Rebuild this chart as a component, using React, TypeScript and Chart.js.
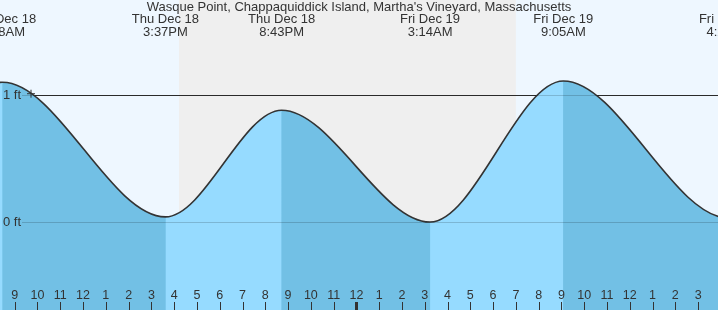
import React, { useEffect, useRef } from "react";
import Chart from "chart.js/auto";

// ---- data (times are hours after Thu Dec 18, 00:00) ----
const TITLE = "Wasque Point, Chappaquiddick Island, Martha's Vineyard, Massachusetts";
const tideTimes = [2.2, 8.467, 15.617, 20.717, 27.233, 33.083, 40.35, 46.6];
const tideHeights = [0.05, 1.1, 0.04, 0.88, 0.0, 1.11, 0.03, 0.9];
const eventTimes = [8.467, 15.617, 20.717, 27.233, 33.083, 40.35];
const eventDays = ["Thu Dec 18", "Thu Dec 18", "Thu Dec 18", "Fri Dec 19", "Fri Dec 19", "Fri Dec 19"];
const eventClock = ["8:28AM", "3:37PM", "8:43PM", "3:14AM", "9:05AM", "4:21PM"];
const nightStarts = [16.21];
const nightEnds = [31.0];
const hourTicks = [9, 10, 11, 12, 13, 14, 15, 16, 17, 18, 19, 20, 21, 22, 23, 24, 25, 26, 27, 28, 29, 30, 31, 32, 33, 34, 35, 36, 37, 38, 39];
const hourLabels = ["9", "10", "11", "12", "1", "2", "3", "4", "5", "6", "7", "8", "9", "10", "11", "12", "1", "2", "3", "4", "5", "6", "7", "8", "9", "10", "11", "12", "1", "2", "3"];
const midnightHours = [24];
const nowTimes = [9.715];
const nowHeights = [1.01];
const heightTicks = [0, 1];
const heightLabels = ["0 ft", "1 ft"];

const X_MIN = 8.354;
const X_MAX = 39.873;
const Y_MIN = -0.693;
const Y_MAX = 1.748;

const DAY_BG = "#eef7ff";
const NIGHT_BG = "#efefef";
const RISING = "#96dbff";
const FALLING = "#72c0e5";
const INK = "#333333";
const FONT = "'Liberation Sans', Arial, sans-serif";

function drawLevelLines(chart: any, color: string) {
  const { ctx, chartArea: a, scales } = chart;
  ctx.save();
  ctx.strokeStyle = color;
  ctx.lineWidth = 1;
  heightTicks.forEach((v) => {
    const y = Math.round(scales.y.getPixelForValue(v)) + 0.5;
    ctx.beginPath();
    ctx.moveTo(22, y);
    ctx.lineTo(a.right, y);
    ctx.stroke();
  });
  ctx.restore();
}

const decor = {
  id: "tideDecor",
  beforeDraw(chart: any) {
    const { ctx, chartArea: a, scales } = chart;
    const xs = scales.x;
    ctx.save();
    ctx.fillStyle = DAY_BG;
    ctx.fillRect(a.left, a.top, a.right - a.left, a.bottom - a.top);
    ctx.fillStyle = NIGHT_BG;
    nightStarts.forEach((s, i) => {
      const x0 = xs.getPixelForValue(s);
      const x1 = xs.getPixelForValue(nightEnds[i]);
      ctx.fillRect(x0, a.top, x1 - x0, a.bottom - a.top);
    });
    ctx.restore();
    drawLevelLines(chart, INK);
  },
  afterDatasetsDraw(chart: any) {
    const { ctx, chartArea: a, scales } = chart;
    const xs = scales.x;
    const ys = scales.y;
    drawLevelLines(chart, "rgba(0,0,0,0.17)");
    ctx.save();
    ctx.fillStyle = INK;
    ctx.textBaseline = "middle";
    // height labels
    ctx.font = `13px ${FONT}`;
    ctx.textAlign = "left";
    heightTicks.forEach((v, i) => {
      ctx.fillText(heightLabels[i], 3, ys.getPixelForValue(v) + 0.5);
    });
    // hour ticks
    ctx.font = `12.5px ${FONT}`;
    ctx.textAlign = "center";
    hourTicks.forEach((h, i) => {
      const x = xs.getPixelForValue(h);
      ctx.fillText(hourLabels[i], x, 296);
      if (midnightHours.includes(h)) {
        ctx.fillRect(Math.round(x) - 1, 302, 3, a.bottom - 302);
      } else {
        ctx.fillRect(Math.round(x), 302, 1, a.bottom - 302);
      }
    });
    // event labels
    ctx.font = `13px ${FONT}`;
    eventTimes.forEach((t, i) => {
      const x = xs.getPixelForValue(t);
      ctx.fillText(eventDays[i], x, 19.5);
      ctx.fillText(eventClock[i], x, 32);
    });
    // title
    ctx.fillText(TITLE, (a.left + a.right) / 2, 7);
    ctx.restore();
  },
};

export default function App() {
  const ref = useRef<HTMLCanvasElement>(null);
  useEffect(() => {
    if (!ref.current) return;
    const tidePoints = tideTimes.map((t, i) => ({ x: t, y: tideHeights[i] }));
    const chart = new Chart(ref.current, {
      type: "line",
      data: {
        datasets: [
          {
            // whole water body (falling colour) + curve stroke
            data: tidePoints,
            borderColor: INK,
            borderWidth: 1.6,
            pointRadius: 0,
            cubicInterpolationMode: "monotone",
            fill: "start",
            backgroundColor: FALLING,
            order: 3,
          },
          {
            // rising (flood) stretches painted over it
            data: tidePoints,
            borderColor: "rgba(0,0,0,0)",
            borderWidth: 0,
            pointRadius: 0,
            cubicInterpolationMode: "monotone",
            fill: "start",
            backgroundColor: RISING,
            segment: {
              backgroundColor: (c: any) => (c.p1.parsed.y > c.p0.parsed.y ? RISING : "rgba(0,0,0,0)"),
            },
            order: 2,
          },
          {
            type: "scatter",
            data: nowTimes.map((t, i) => ({ x: t, y: nowHeights[i] })),
            pointStyle: "cross",
            pointRadius: 4,
            borderColor: INK,
            borderWidth: 1,
            order: 1,
          } as any,
        ],
      },
      options: {
        animation: false,
        responsive: false,
        devicePixelRatio: 1,
        layout: { padding: 0, autoPadding: false },
        events: [],
        scales: {
          x: { type: "linear", min: X_MIN, max: X_MAX, display: false },
          y: { type: "linear", min: Y_MIN, max: Y_MAX, display: false },
        },
        plugins: {
          legend: { display: false },
          title: { display: false },
          tooltip: { enabled: false },
          filler: { drawTime: "beforeDatasetsDraw" },
        },
      },
      plugins: [decor],
    } as any);
    return () => chart.destroy();
  }, []);
  return (
    <div style={{ position: "absolute", left: 0, top: 0, width: 718, height: 310 }}>
      <canvas ref={ref} width={718} height={310} style={{ display: "block" }} />
    </div>
  );
}
